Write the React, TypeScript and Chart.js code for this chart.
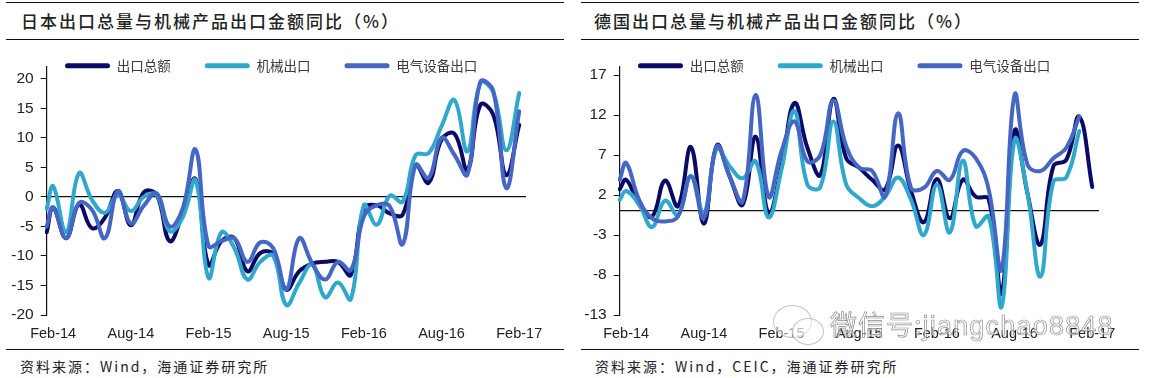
import React, { useEffect, useRef } from "react";
import { Chart, registerables } from "chart.js";

Chart.register(...registerables);

const monthLabels = [
  "Feb-14","Mar-14","Apr-14","May-14","Jun-14","Jul-14","Aug-14","Sep-14","Oct-14","Nov-14","Dec-14","Jan-15",
  "Feb-15","Mar-15","Apr-15","May-15","Jun-15","Jul-15","Aug-15","Sep-15","Oct-15","Nov-15","Dec-15","Jan-16",
  "Feb-16","Mar-16","Apr-16","May-16","Jun-16","Jul-16","Aug-16","Sep-16","Oct-16","Nov-16","Dec-16","Jan-17",
  "Feb-17",
];
const labelledMonths = [0, 6, 12, 18, 24, 30, 36];
const boundaryTicks = [-0.5, 5.5, 11.5, 17.5, 23.5, 29.5, 35.5];
const seriesNames = ["出口总额", "机械出口", "电气设备出口"];
const seriesColors = ["#0b0b66", "#2fa8cc", "#4666c4"];
const seriesOrder = [2, 1, 0];

// The first value of each series is the Jan-14 stub, half a month left of Feb-14.
const japanTotal = [-6, -1.8, -7, -1.3, -5.3, -3.5, 1, -4.8, 0.8, 0.3, -7.5, -2.8, 3, -11.5, -7.5, -7, -12.6, -9.5, -9.7, -15.7, -12.6, -11.3, -11, -11, -13.2, -2, -1.4, -2.8, -3, 5.4, 2.4, 9.7, 10.7, 4.6, 15.6, 13.9, 3.7, 12.2];
const japanMachinery = [-2, 1.8, -6, 4, -0.5, -2.7, 0.3, -2.4, 0, 0.3, -5.8, -3.5, 2.8, -13.7, -6, -8.7, -14, -11, -10, -18.3, -14.6, -11.5, -17, -14.5, -17.3, -1.4, -4.7, 0.2, -0.8, 7.1, 7.4, 12, 16.4, 7.7, 19.3, 17.7, 7.9, 17.6];
const japanElectrical = [-5, -1.8, -7, -1, -2.2, -7, 1, -4.5, -1.5, 0.6, -5, -2, 8, -8.3, -7.5, -7, -11, -7.7, -8.7, -15.7, -7, -11.2, -14, -11, -12.4, -3.3, -1.4, -1.6, -8, 5.4, 3.2, 10, 7.1, 3.8, 19.5, 17.9, 1.5, 14.5];
const japanTicks = [-20, -15, -10, -5, 0, 5, 10, 15, 20];

const germanyTotal = [2.7, 3.9, 0.8, -0.7, 3.8, 0.6, 8, -1.6, 8.2, 4.3, 0.8, 9.3, -0.3, 5.6, 13.5, 7.9, 4.5, 14, 6.6, 5.4, 3.9, 2.7, 8.2, 2.5, -1.4, 4, -0.9, 3.9, 1.8, 1.5, -10.3, 10, 2.2, -4.2, 5.6, 6.4, 11.8, 3];
const germanyMachinery = [1.4, 2.5, 0.8, -2, 1.3, -0.5, 4.4, -0.3, 7.8, 5.6, 4.1, 6.2, -0.8, 5.2, 12.5, 3.3, 3, 11.2, 3.3, 1.6, 0.6, 1.8, 4.2, 1.4, -3, 3.3, -2.7, 6.3, -1.9, -0.7, -12, 8.9, 2.2, -8.2, 3.7, 4.2, 10];
const germanyElectrical = [3.9, 6, 1.4, -0.9, -1.3, -0.7, 4.3, -0.9, 8.1, 4.3, 1.2, 14.5, 1.8, 7.5, 11.2, 6.2, 7, 13.8, 8.1, 5.4, 5, 1.8, 12.2, 2.9, 2.9, 5, 3.9, 7.5, 6.6, 2.7, -7.3, 14.5, 5.8, 5, 6.6, 7.9, 11.8];
const germanyTicks = [-13, -8, -3, 2, 7, 12, 17];

const TICK_FONT = "'Liberation Sans', Arial, sans-serif";
const CJK_FONT = "'Noto Sans CJK SC', sans-serif";

function toPoints(values: number[]) {
  return values.map((y, i) => ({ x: i === 0 ? -0.5 : i - 1, y }));
}

function Panel({ left, series, yTicks, yMin, yMax }: { left: number; series: number[][]; yTicks: number[]; yMin: number; yMax: number }) {
  const ref = useRef<HTMLCanvasElement>(null);
  useEffect(() => {
    const chart = new Chart(ref.current as HTMLCanvasElement, {
      type: "line",
      data: {
        labels: monthLabels,
        datasets: series.map((values, k) => ({
          label: seriesNames[k],
          data: toPoints(values) as any,
          parsing: false,
          borderColor: seriesColors[k],
          backgroundColor: seriesColors[k],
          borderWidth: 4,
          tension: 0.42,
          pointRadius: 0,
          order: seriesOrder[k],
          borderCapStyle: "round",
          borderJoinStyle: "round",
        })) as any,
      },
      options: {
        responsive: false,
        animation: false,
        events: [],
        layout: { padding: { left: 4, right: 44.3, top: 25, bottom: 0 } },
        plugins: {
          tooltip: { enabled: false },
          legend: {
            position: "top",
            align: "start",
            labels: {
              boxWidth: 45,
              boxHeight: 5,
              padding: 34,
              useBorderRadius: true,
              borderRadius: 2.5,
              color: "#3a3a3a",
              font: { family: CJK_FONT, size: 13.5 },
              sort: (a: any, b: any) => a.datasetIndex - b.datasetIndex,
              generateLabels: (c: any) =>
                (Chart.defaults.plugins.legend.labels as any).generateLabels(c).map((l: any) => ({ ...l, lineWidth: 0 })),
            },
          },
        },
        scales: {
          x: {
            type: "category",
            offset: true,
            position: "bottom",
            grid: { display: false, drawTicks: false },
            border: { display: false },
            afterBuildTicks: (s: any) => {
              s.ticks = labelledMonths.map((value) => ({ value }));
            },
            afterFit: (s: any) => {
              s.height = 30;
            },
            ticks: {
              autoSkip: false,
              maxRotation: 0,
              padding: 10,
              color: "#222",
              font: { family: TICK_FONT, size: 14.5 },
            },
          },
          x2: {
            type: "category",
            offset: true,
            position: { y: 0 },
            grid: { drawOnChartArea: false, tickLength: 5, color: "#111", tickColor: "#111" },
            border: { color: "#111", width: 1.2 },
            afterBuildTicks: (s: any) => {
              s.ticks = boundaryTicks.map((value) => ({ value }));
            },
            ticks: { display: false },
          },
          y: {
            type: "linear",
            min: yMin,
            max: yMax,
            position: "left",
            afterBuildTicks: (s: any) => {
              s.ticks = yTicks.map((value) => ({ value }));
            },
            afterFit: (s: any) => {
              s.width = 42.7;
            },
            grid: { drawOnChartArea: false, tickLength: 6, color: "#111", tickColor: "#111" },
            border: { color: "#111", width: 1.2 },
            ticks: { padding: 7, color: "#222", font: { family: TICK_FONT, size: 15.5 } },
          },
        },
      } as any,
      plugins: [
        {
          id: "legendBand",
          beforeInit(c: any) {
            const legend = c.legend;
            const fit = legend.fit;
            legend.fit = function () {
              fit.call(this);
              this.height = 42;
            };
          },
          afterLayout(c: any) {
            c.legend.left = 31;
            c.legend.height = 60;
            c.legend.bottom = 85;
          },
        },
      ],
    });
    return () => chart.destroy();
  }, []);
  return <canvas ref={ref} width={570} height={345} style={{ position: "absolute", left, top: 0, width: 570, height: 345, display: "block" }} />;
}

function Rule({ left, top, width, h }: { left: number; top: number; width: number; h: number }) {
  return <div style={{ position: "absolute", left, top, width, height: h, background: "#111" }} />;
}

function Label({ left, top, text, size, spacing, weight }: { left: number; top: number; text: string; size: number; spacing: number; weight: number }) {
  return (
    <div style={{ position: "absolute", left, top, whiteSpace: "nowrap", fontFamily: CJK_FONT, fontSize: size, letterSpacing: spacing, fontWeight: weight, color: "#222", lineHeight: "24px" }}>
      {text}
    </div>
  );
}

function Bubble({ left, top, w, h }: { left: number; top: number; w: number; h: number }) {
  return <div style={{ position: "absolute", left, top, width: w, height: h, borderRadius: "50%", border: "1px solid #c4c4c4", background: "rgba(255,255,255,0.45)" }} />;
}

export default function App() {
  return (
    <div style={{ position: "absolute", left: 0, top: 0, width: 1157, height: 378, background: "#fff", overflow: "hidden" }}>
      <Rule left={6} top={2} width={558} h={1} />
      <Rule left={6} top={39} width={558} h={1} />
      <Rule left={6} top={349} width={558} h={1} />
      <Rule left={581} top={2} width={558} h={1} />
      <Rule left={581} top={39} width={558} h={1} />
      <Rule left={581} top={349} width={558} h={1} />
      <Label left={21} top={9} text="日本出口总量与机械产品出口金额同比（%）" size={17} spacing={2} weight={500} />
      <Label left={594} top={9} text="德国出口总量与机械产品出口金额同比（%）" size={17} spacing={2} weight={500} />
      <Panel left={0} series={[japanTotal, japanMachinery, japanElectrical]} yTicks={japanTicks} yMin={-20} yMax={22} />
      <Panel left={573} series={[germanyTotal, germanyMachinery, germanyElectrical]} yTicks={germanyTicks} yMin={-13} yMax={18} />
      <Label left={20} top={354} text="资料来源：Wind，海通证券研究所" size={14} spacing={2} weight={400} />
      <Label left={595} top={354} text="资料来源：Wind，CEIC，海通证券研究所" size={14} spacing={2} weight={400} />
      <Bubble left={773} top={305} w={37} h={31} />
      <Bubble left={792} top={318} w={30} h={25} />
      <div style={{ position: "absolute", left: 830, top: 306, whiteSpace: "nowrap", fontFamily: CJK_FONT, fontSize: 27, lineHeight: "36px", color: "rgba(255,255,255,0.55)", WebkitTextStroke: "0.7px #8d8d8d", letterSpacing: 1 }}>
        微信号:<span style={{ fontFamily: TICK_FONT, letterSpacing: 1.2 }}>jiangchao8848</span>
      </div>
    </div>
  );
}
